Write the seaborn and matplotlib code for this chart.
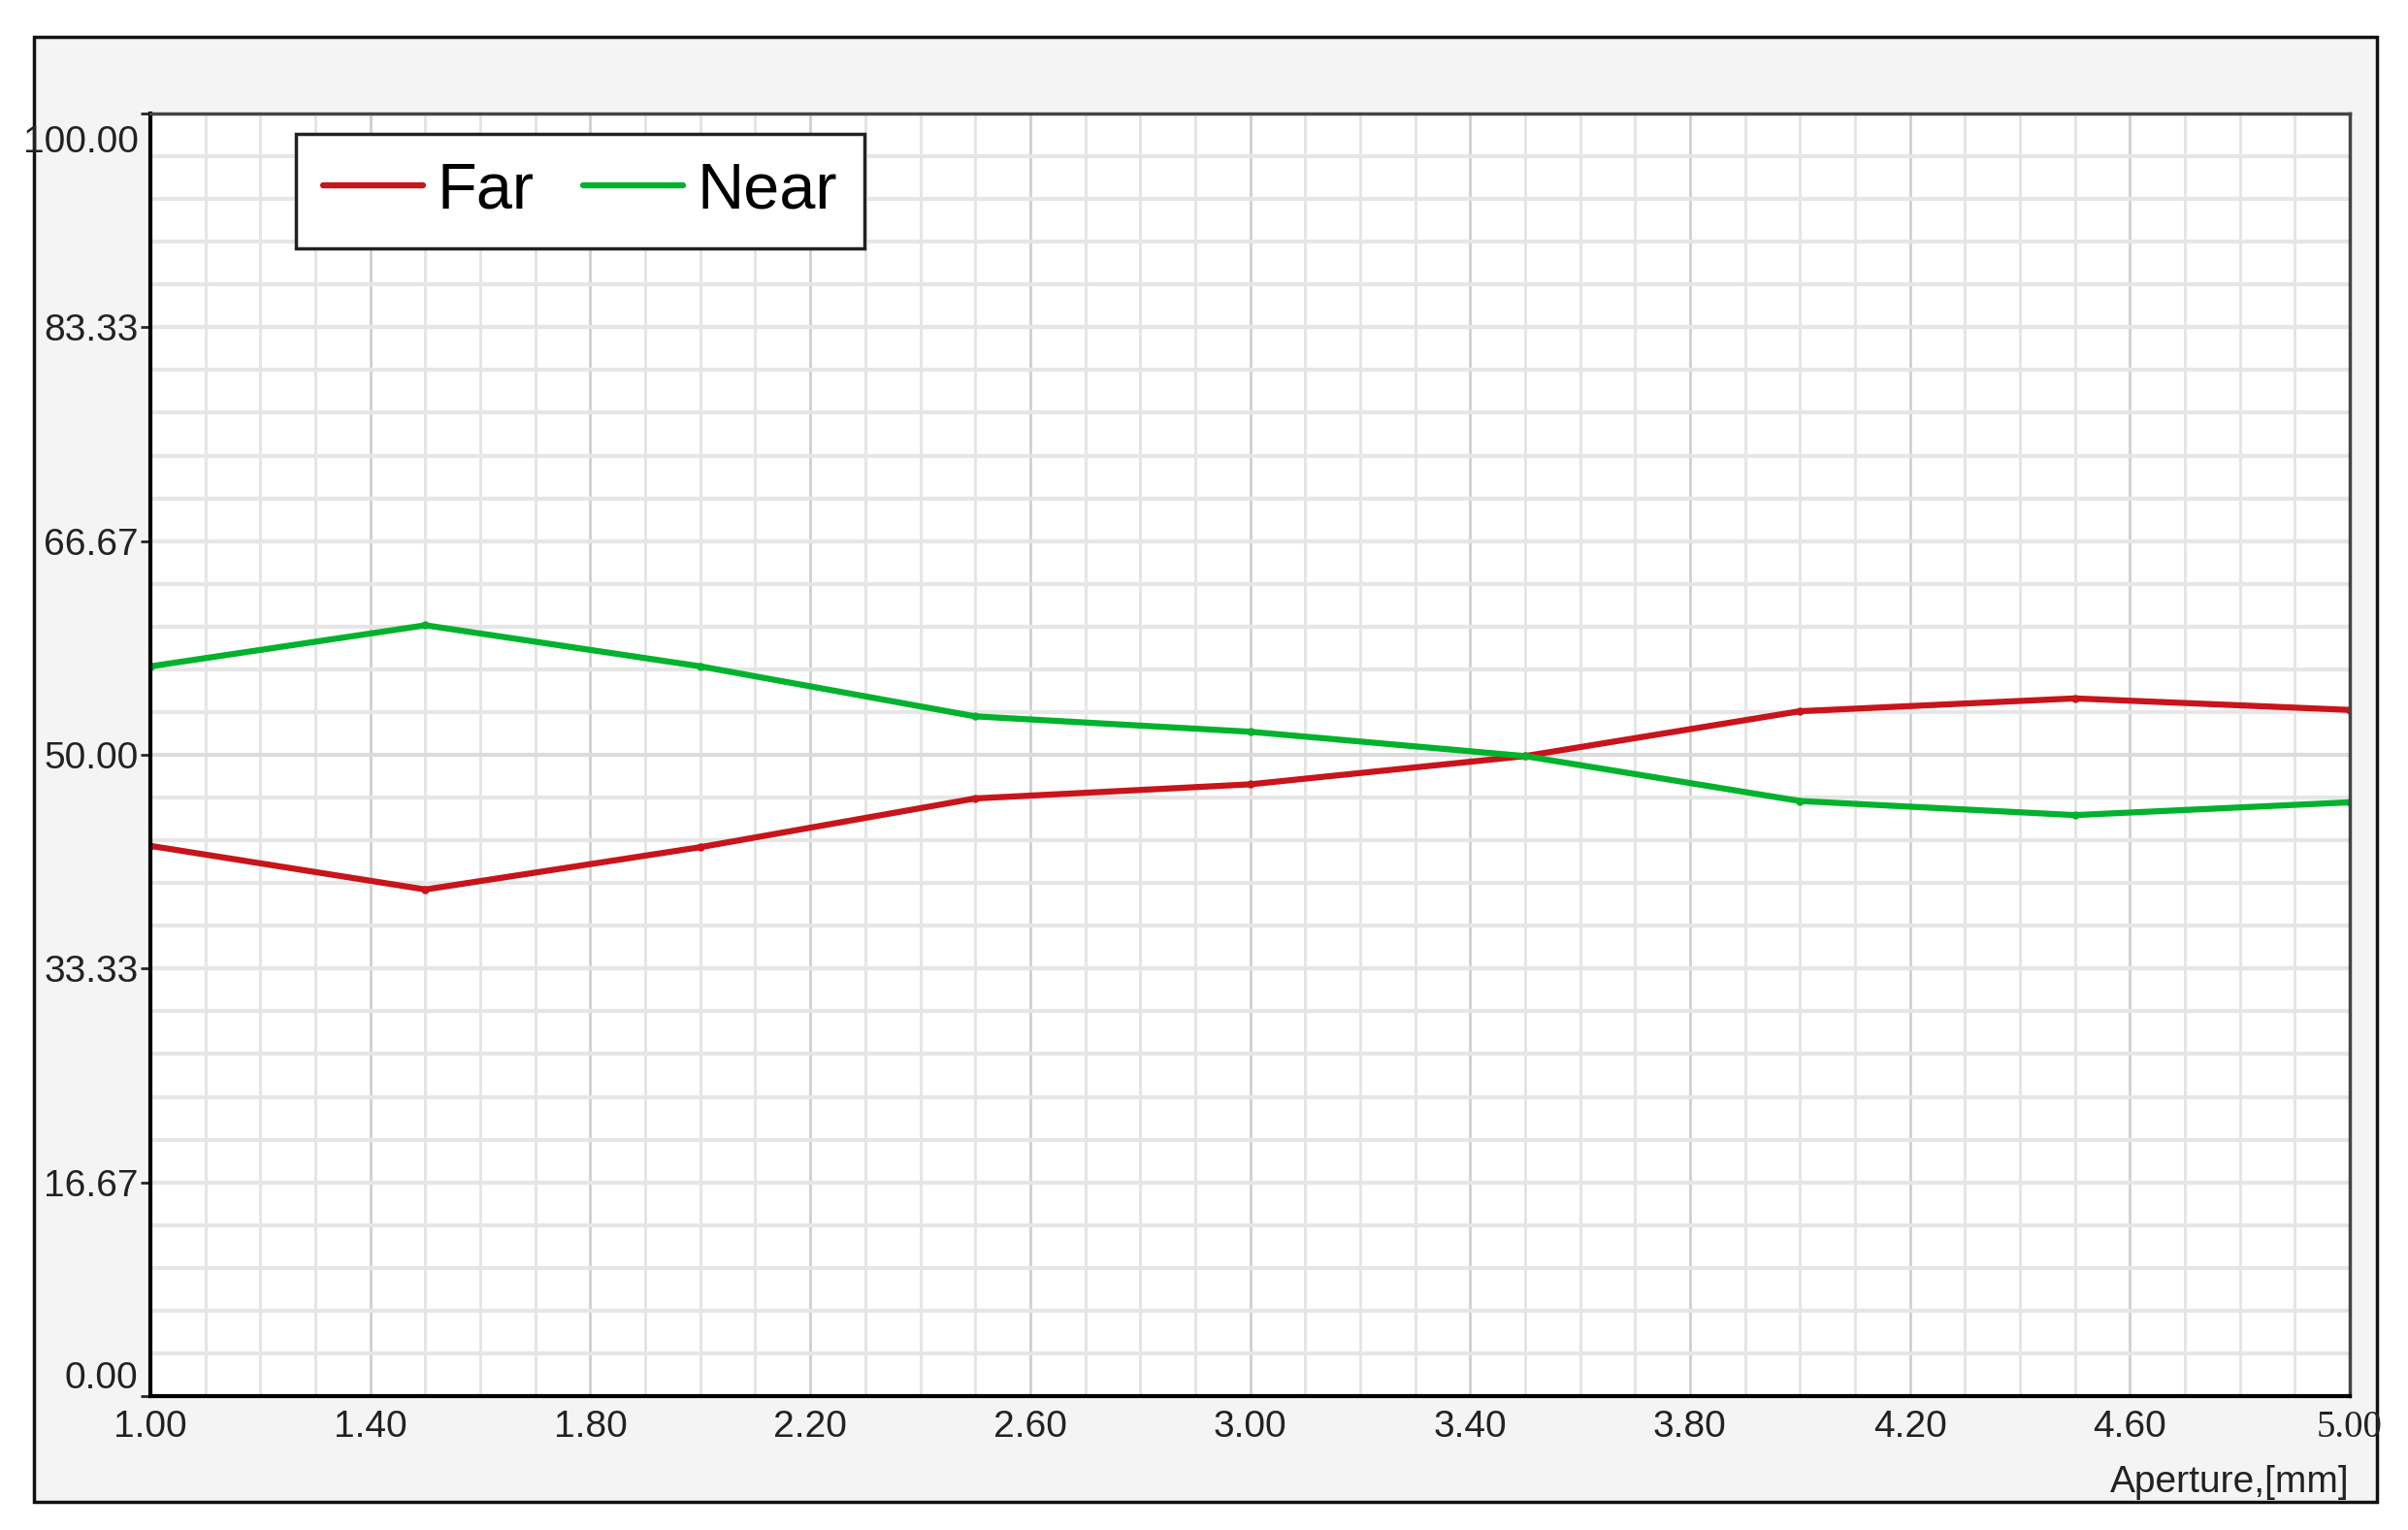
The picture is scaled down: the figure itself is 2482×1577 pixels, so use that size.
import matplotlib

matplotlib.use("Agg")
import matplotlib.pyplot as plt
import matplotlib.transforms as mtransforms
import pandas as pd
import seaborn as sns
from matplotlib.patches import Rectangle
from matplotlib.ticker import MultipleLocator

# Данные
aperture = [1.0, 1.5, 2.0, 2.5, 3.0, 3.5, 4.0, 4.5, 5.0]
far = [42.9, 39.5, 42.8, 46.6, 47.7, 49.9, 53.4, 54.4, 53.5]
near = [56.9, 60.1, 56.9, 53.0, 51.8, 49.9, 46.4, 45.3, 46.3]

x_ticks = [1.0, 1.4, 1.8, 2.2, 2.6, 3.0, 3.4, 3.8, 4.2, 4.6, 5.0]
y_ticks = [0.0, 16.67, 33.33, 50.0, 66.67, 83.33, 100.0]

colors = {"Far": "#c8141a", "Near": "#00b22c"}

df = pd.DataFrame(
    {
        "aperture": aperture * 2,
        "value": far + near,
        "series": ["Far"] * len(far) + ["Near"] * len(near),
    }
)

sns.set_style("white")
plt.rcParams["font.family"] = ["Liberation Sans", "DejaVu Sans"]

fig = plt.figure(figsize=(24.82, 15.77), dpi=100)
fig.patch.set_facecolor("white")

# Серая рамка вокруг всего графика
frame = Rectangle(
    (0.0141, 0.0184), 0.973, 0.9575,
    transform=fig.transFigure, facecolor="#f4f4f4",
    edgecolor="#111111", linewidth=2.5, zorder=-10,
)
fig.add_artist(frame)

ax = fig.add_axes([0.0625, 0.0875, 0.9133, 0.8383])
ax.set_zorder(1)
ax.set_facecolor("white")

sns.lineplot(
    data=df, x="aperture", y="value", hue="series", palette=colors,
    linewidth=4.5, marker="o", markersize=6, markeredgewidth=0, ax=ax,
)

ax.set_xlim(1.0, 5.0)
ax.set_ylim(0, 100)

# Сетка
ax.set_xticks(x_ticks)
ax.xaxis.set_minor_locator(MultipleLocator(0.1))
ax.set_yticks(y_ticks)
ax.yaxis.set_minor_locator(MultipleLocator(100 / 30))
ax.grid(which="major", axis="x", color="#cfcfcf", linewidth=2)
ax.grid(which="minor", axis="x", color="#e4e4e4", linewidth=2)
ax.grid(which="major", axis="y", color="#dcdcdc", linewidth=3)
ax.grid(which="minor", axis="y", color="#e6e6e6", linewidth=3)
ax.set_axisbelow(True)

ax.set_xticklabels([f"{v:.2f}" for v in x_ticks])
ax.set_yticklabels([f"{v:.2f}" for v in y_ticks])
ax.tick_params(axis="x", which="both", length=0, pad=10, labelsize=28,
               labelcolor="#222222")
ax.tick_params(axis="y", which="major", length=7, width=2, pad=2,
               labelsize=28, labelcolor="#222222", left=True)
ax.tick_params(axis="y", which="minor", length=0)

ylabels = ax.get_yticklabels()
ylabels[0].set_va("bottom")
ylabels[-1].set_va("top")
# подпись 100.00 в оригинале опущена ниже деления
ylabels[-1].set_transform(
    ylabels[-1].get_transform()
    + mtransforms.ScaledTranslation(0, -0.12, fig.dpi_scale_trans)
)
xlabels = ax.get_xticklabels()
xlabels[-1].set_family(["Liberation Serif", "DejaVu Serif"])

for side in ["left", "bottom"]:
    ax.spines[side].set_color("black")
    ax.spines[side].set_linewidth(3)
for side in ["top", "right"]:
    ax.spines[side].set_color("#444444")
    ax.spines[side].set_linewidth(2.5)

ax.set_ylabel("")
ax.set_xlabel("Aperture,[mm]", loc="right", fontsize=28, color="#222222")
ax.xaxis.set_label_coords(1.0, -0.054)

sns.move_legend(
    ax, "upper left", bbox_to_anchor=(0.066, 0.984), title=None, ncol=2,
    fontsize=48, frameon=True, fancybox=False, framealpha=1,
    edgecolor="#222222", handlelength=1.55, handletextpad=0.22,
    columnspacing=0.75, borderpad=0.42, borderaxespad=0,
)
leg = ax.get_legend()
leg.get_frame().set_linewidth(2.5)
for text in leg.get_texts():
    text.set_color("black")
for line in leg.get_lines():
    line.set_linewidth(4.5)
    line.set_marker("")

fig.savefig("out.png", dpi=100, facecolor=fig.get_facecolor())
